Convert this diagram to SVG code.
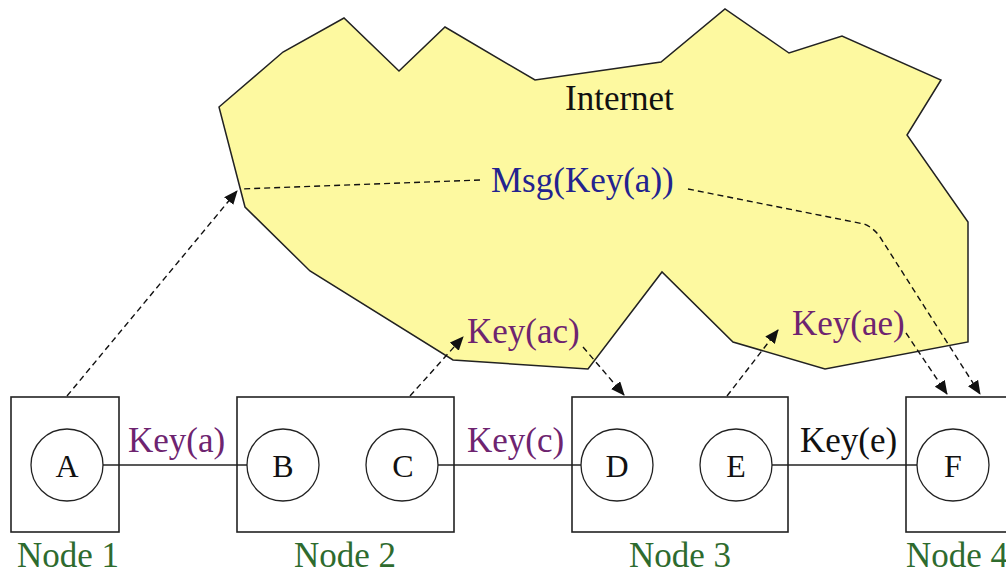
<svg xmlns="http://www.w3.org/2000/svg" width="1006" height="575" viewBox="0 0 1006 575" font-family="'Liberation Serif', 'DejaVu Serif', serif">
  <style>
    .box { fill: none; stroke: #222; stroke-width: 1.6; }
    .peer { fill: none; stroke: #222; stroke-width: 1.3; }
    .link { fill: none; stroke: #222; stroke-width: 1.6; }
    .flow { fill: none; stroke: #111; stroke-width: 1.4; stroke-dasharray: 6 4; }
    .letter { font-size: 32px; fill: #111; text-anchor: middle; }
    .name { font-size: 35px; fill: #2e6b2e; text-anchor: middle; }
    .key { font-size: 35px; fill: #6e2470; }
    .plain { font-size: 35px; fill: #111; }
  </style>
  <defs>
    <marker id="arrow" markerUnits="userSpaceOnUse" markerWidth="14" markerHeight="12" refX="13" refY="6" orient="auto">
      <path d="M0,0 L14,6 L0,12 Z" fill="#111"/>
    </marker>
  </defs>

  <rect width="1006" height="575" fill="#ffffff"/>

  <!-- cloud -->
  <g id="internet">
    <polygon points="219,107 283,52 344,18 399,71 445,27 535,80 661,62 725,9 789,53 842,36 941,80 907,135 968,222 968,342 825,369 733,342 662,272 588,369 453,360 310,271 245,207"
             fill="#fdf9a0" stroke="#222" stroke-width="1.5"/>
    <text x="565" y="110" font-family="Liberation Serif, serif" style="font-size:35px;fill:#111">Internet</text>
    <text x="491" y="192" font-family="Liberation Serif, serif" style="font-size:35px;fill:#23238f">Msg(Key(a))</text>
    <text x="467" y="343" font-family="Liberation Serif, serif" class="key">Key(ac)</text>
    <text x="792" y="335" font-family="Liberation Serif, serif" class="key">Key(ae)</text>
  </g>

  <!-- Node 1 -->
  <g id="node1" font-family="Liberation Serif, serif">
    <rect x="11" y="397" width="108" height="135" class="box"/>
    <circle cx="67" cy="465" r="36" class="peer"/>
    <text x="67" y="477" class="letter">A</text>
    <text x="68" y="567" class="name">Node 1</text>
  </g>

  <!-- Node 2 -->
  <g id="node2" font-family="Liberation Serif, serif">
    <rect x="237" y="397" width="217" height="135" class="box"/>
    <circle cx="283" cy="465" r="36" class="peer"/>
    <text x="283" y="477" class="letter">B</text>
    <circle cx="402" cy="465" r="36" class="peer"/>
    <text x="403" y="477" class="letter">C</text>
    <text x="345" y="567" class="name">Node 2</text>
  </g>

  <!-- Node 3 -->
  <g id="node3" font-family="Liberation Serif, serif">
    <rect x="572" y="397" width="216" height="135" class="box"/>
    <circle cx="617" cy="465" r="36" class="peer"/>
    <text x="617" y="477" class="letter">D</text>
    <circle cx="736" cy="465" r="36" class="peer"/>
    <text x="736" y="477" class="letter">E</text>
    <text x="680" y="567" class="name">Node 3</text>
  </g>

  <!-- Node 4 -->
  <g id="node4" font-family="Liberation Serif, serif">
    <rect x="906" y="397" width="140" height="135" class="box"/>
    <circle cx="953" cy="465" r="36" class="peer"/>
    <text x="953" y="477" class="letter">F</text>
    <text x="906" y="567" class="name" style="text-anchor:start">Node 4</text>
  </g>

  <!-- connectors -->
  <g id="connectors" font-family="Liberation Serif, serif">
    <line x1="103" y1="465" x2="247" y2="465" class="link"/>
    <text x="128" y="452" class="key">Key(a)</text>
    <line x1="438" y1="465" x2="581" y2="465" class="link"/>
    <text x="467" y="452" class="key">Key(c)</text>
    <line x1="772" y1="465" x2="917" y2="465" class="link"/>
    <text x="800" y="452" class="plain">Key(e)</text>

    <!-- Node 1 up to the cloud, Msg carried across -->
    <line x1="67" y1="396" x2="237" y2="191" class="flow" marker-end="url(#arrow)"/>
    <line x1="480" y1="180" x2="240" y2="189" class="flow"/>
    <path d="M688,189 L864,224 Q874,228 880,237 L980,394" class="flow" marker-end="url(#arrow)"/>

    <!-- Key(ac) -->
    <line x1="410" y1="396" x2="463" y2="337" class="flow" marker-end="url(#arrow)"/>
    <line x1="583" y1="347" x2="624" y2="395" class="flow" marker-end="url(#arrow)"/>

    <!-- Key(ae) -->
    <line x1="727" y1="396" x2="778" y2="330" class="flow" marker-end="url(#arrow)"/>
    <line x1="906" y1="333" x2="947" y2="394" class="flow" marker-end="url(#arrow)"/>
  </g>
</svg>
